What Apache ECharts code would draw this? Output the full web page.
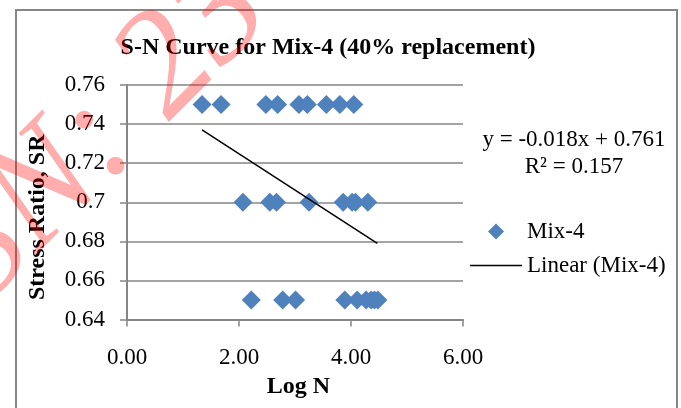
<!DOCTYPE html>
<html><head><meta charset="utf-8">
<script src="https://cdn.jsdelivr.net/npm/echarts@6/dist/echarts.min.js"></script>
<style>html,body{margin:0;padding:0;background:#fff}#c{width:681px;height:408px}</style>
</head><body><div id="c"></div>
<script>
// ---- data ----
const chartTitle = 'S-N Curve for Mix-4 (40% replacement)';
const xAxisTitle = 'Log N';
const yAxisTitle = 'Stress Ratio, SR';
const seriesName = 'Mix-4';
const trendName = 'Linear (Mix-4)';
const equationLines = ['y = -0.018x + 0.761', 'R\u00b2 = 0.157'];
const stressLevels = [0.75, 0.70, 0.65];
const logN_SR075 = [1.34, 1.68, 2.48, 2.69, 3.07, 3.22, 3.56, 3.80, 4.05];
const logN_SR070 = [2.07, 2.55, 2.67, 3.25, 3.86, 4.02, 4.08, 4.30];
const logN_SR065 = [2.22, 2.78, 3.01, 3.89, 4.11, 4.27, 4.36, 4.42, 4.48];
const trendLogN = [1.34, 4.47];
const trendSR = [0.737, 0.679];
const xTickLabels = ['0.00', '2.00', '4.00', '6.00'];
const yTickLabels = ['0.64', '0.66', '0.68', '0.7', '0.72', '0.74', '0.76'];
const watermarkText = 'ISSN: 234';

// ---- build ----
const groups = [logN_SR075, logN_SR070, logN_SR065];
const points = [];
groups.forEach((g, i) => g.forEach(x => points.push([x, stressLevels[i]])));
const trendPts = trendLogN.map((x, i) => [x, trendSR[i]]);

const FONT = '"Liberation Serif", "Times New Roman", serif';
const GRAY = '#868686';

const chart = echarts.init(document.getElementById('c'), null, {renderer: 'canvas'});
chart.setOption({
  animation: false,
  backgroundColor: '#fff',
  title: {
    text: chartTitle, left: 328, top: 36, textAlign: 'center', padding: 0,
    textStyle: {fontFamily: FONT, fontSize: 24, fontWeight: 'bold', color: '#000'}
  },
  grid: {left: 127, top: 85, right: 218, bottom: 88.5, containLabel: false, outerBoundsMode: 'none'},
  xAxis: {
    type: 'value', min: 0, max: 6, interval: 2,
    name: xAxisTitle, nameLocation: 'middle', nameGap: 54,
    nameTextStyle: {fontFamily: FONT, fontSize: 24, fontWeight: 'bold', color: '#000', padding: [0, 0, 0, 7]},
    axisLine: {show: true, onZero: false, lineStyle: {color: GRAY, width: 2}},
    axisTick: {show: true, inside: false, length: 7, lineStyle: {color: GRAY, width: 1.5}},
    axisLabel: {margin: 27, fontFamily: FONT, fontSize: 23, color: '#000',
      formatter: v => xTickLabels[Math.round(v / 2)]},
    splitLine: {show: false}
  },
  yAxis: {
    type: 'value', min: 0.64, max: 0.76, interval: 0.02,
    name: yAxisTitle, nameLocation: 'middle', nameGap: 77, nameRotate: 90,
    nameTextStyle: {fontFamily: FONT, fontSize: 24, fontWeight: 'bold', color: '#000', padding: [0, 30, 0, 0]},
    axisLine: {show: true, onZero: false, lineStyle: {color: GRAY, width: 2}},
    axisTick: {show: true, inside: false, length: 7, lineStyle: {color: GRAY, width: 1.5}},
    axisLabel: {margin: 22, fontFamily: FONT, fontSize: 23, color: '#000',
      formatter: v => yTickLabels[Math.round((v - 0.64) / 0.02)]},
    splitLine: {show: true, lineStyle: {color: GRAY, width: 1.5}}
  },
  legend: {
    orient: 'vertical', left: 470, top: 220, padding: 0, itemWidth: 52, itemHeight: 16, itemGap: 11,
    symbolKeepAspect: true,
    textStyle: {fontFamily: FONT, fontSize: 23, color: '#000'},
    data: [
      {name: seriesName, icon: 'path://M8,0L16,8L8,16L0,8Z'},
      {name: trendName, icon: 'path://M0,0H52V1.6H0Z'}
    ]
  },
  series: [
    {
      name: seriesName, type: 'scatter', symbol: 'diamond', symbolSize: 19,
      itemStyle: {color: '#4F81BD', opacity: 1},
      data: points, z: 3
    },
    {
      name: trendName, type: 'line', symbol: 'none', showSymbol: false,
      lineStyle: {color: '#000', width: 1.5}, itemStyle: {color: '#000'},
      data: trendPts, z: 4
    }
  ],
  graphic: [
    {type: 'rect', z: -10, silent: true, shape: {x: 16, y: 10, width: 661, height: 430},
      style: {fill: 'none', stroke: GRAY, lineWidth: 2}},
    {type: 'text', z: 5, silent: true, x: 574, y: 126,
      style: {text: equationLines.join('\n'), font: '23px ' + FONT, fill: '#000',
        textAlign: 'center', align: 'center', textVerticalAlign: 'top', verticalAlign: 'top', lineHeight: 27}},
    {type: 'text', z: 100, silent: true, x: -133, y: 368, rotation: 45 * Math.PI / 180,
      style: {text: watermarkText, font: 'italic 150px ' + FONT, fill: 'rgba(255,0,0,0.32)',
        textAlign: 'left', align: 'left', textVerticalAlign: 'middle', verticalAlign: 'middle'}}
  ]
});
</script></body></html>
